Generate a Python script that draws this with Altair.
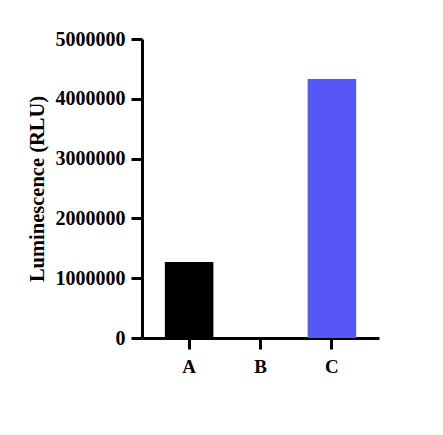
import altair as alt
import pandas as pd

categories = ["A", "B", "C"]
values = [1270000, 3000, 4330000]
colors = ["#000000", "#000000", "#5757f9"]

df = pd.DataFrame({"cat": categories, "val": values, "col": colors})

font = "Liberation Serif"

chart = alt.Chart(df).mark_bar().encode(
    x=alt.X("cat:N", title=None, sort=categories,
            scale=alt.Scale(paddingInner=0.32, paddingOuter=0.32),
            axis=alt.Axis(labelAngle=0, labelFont=font, labelFontSize=19, labelFontWeight="bold",
                          labelColor="black", domainColor="black", domainWidth=3,
                          tickColor="black", tickWidth=3, tickSize=11, labelPadding=8)),
    y=alt.Y("val:Q", title="Luminescence (RLU)",
            scale=alt.Scale(domain=[0, 5000000], nice=False),
            axis=alt.Axis(values=[0, 1000000, 2000000, 3000000, 4000000, 5000000], format="d",
                          labelFont=font, labelFontSize=20, labelFontWeight="bold", labelColor="black",
                          titleFont=font, titleFontSize=20.5, titleFontWeight="bold", titleColor="black",
                          domainColor="black", domainWidth=3, tickColor="black", tickWidth=3,
                          tickSize=11, labelPadding=6, titlePadding=8, grid=False)),
    color=alt.Color("col:N", scale=None, legend=None),
).properties(
    width=237, height=299,
    padding={"left": 19, "top": 21, "right": 5, "bottom": 5},
).configure_view(strokeWidth=0, stroke="transparent")

chart.save("out.html", embed_options={"renderer": "svg", "actions": False})
